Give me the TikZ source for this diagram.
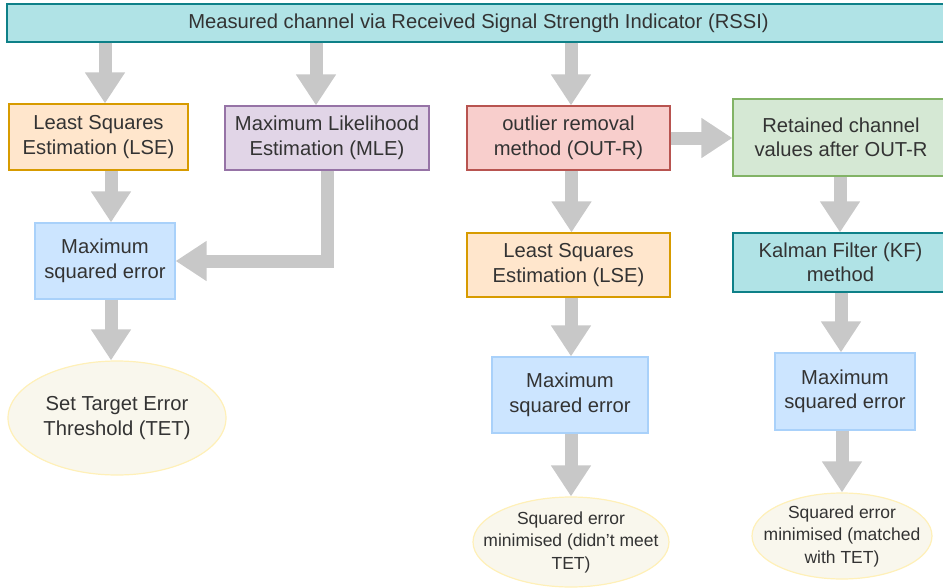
\documentclass[tikz,border=0pt]{standalone}
\usepackage{fontspec}
\setmainfont{Liberation Sans}
\usetikzlibrary{arrows.meta,shapes.geometric}
\definecolor{txt}{HTML}{333333}
\definecolor{arr}{HTML}{C8C8C8}
\definecolor{tealF}{HTML}{B0E3E6}\definecolor{tealD}{HTML}{0E8088}
\definecolor{orF}{HTML}{FFE6CC}\definecolor{orD}{HTML}{D79B00}
\definecolor{puF}{HTML}{E1D5E7}\definecolor{puD}{HTML}{9673A6}
\definecolor{reF}{HTML}{F8CECC}\definecolor{reD}{HTML}{B85450}
\definecolor{grF}{HTML}{D5E8D4}\definecolor{grD}{HTML}{82B366}
\definecolor{blF}{HTML}{CCE5FF}\definecolor{blD}{HTML}{A9D1FA}
\definecolor{elF}{HTML}{F9F7ED}\definecolor{elD}{HTML}{FFF0B8}
\begin{document}
\begin{tikzpicture}[x=1pt, y=-1pt,
  box/.style={draw, line width=1.2pt, inner sep=0pt, align=center, text=txt,
    font=\fontsize{20.2}{24.5}\selectfont},
  oval/.style={box, ellipse, draw=elD, fill=elF},
  small/.style={font=\fontsize{17.5}{22.5}\selectfont, inner xsep=-20pt, inner ysep=-3pt},
  blockarrow/.style={draw=arr, line width=13pt,
    -{Triangle[width=38pt, length=31pt, fill=arr]}}]
  \useasboundingbox (0,0) rectangle (943,587);

  % top bar
  \node[box, draw=tealD, fill=tealF, minimum width=943pt, minimum height=38pt]
    (rssi) at (478.5,23) {Measured channel via Received Signal Strength Indicator (RSSI)};

  % left branch
  \node[box, draw=orD, fill=orF, minimum width=179pt, minimum height=66pt]
    (lseA) at (98.5,137) {Least Squares\\Estimation (LSE)};
  \node[box, draw=puD, fill=puF, minimum width=204pt, minimum height=64pt]
    (mle) at (327,138) {Maximum Likelihood\\Estimation (MLE)};
  \node[box, draw=blD, fill=blF, minimum width=140pt, minimum height=76pt]
    (errA) at (105,261) {Maximum\\squared error};
  \node[oval, inner xsep=0pt, minimum width=218pt, minimum height=114pt]
    (tet) at (117,418) {Set Target Error\\Threshold (TET)};

  % right branch
  \node[box, draw=reD, fill=reF, minimum width=203pt, minimum height=64pt]
    (outr) at (568.5,138) {outlier removal\\method (OUT-R)};
  \node[box, draw=grD, fill=grF, minimum width=216pt, minimum height=77pt]
    (kept) at (841,137.5) {Retained channel\\values after OUT-R};
  \node[box, draw=orD, fill=orF, minimum width=203pt, minimum height=64pt]
    (lseB) at (568.5,265) {Least Squares\\Estimation (LSE)};
  \node[box, draw=tealD, fill=tealF, minimum width=215pt, minimum height=59pt]
    (kf) at (840.5,262.5) {Kalman Filter (KF)\\method};
  \node[box, draw=blD, fill=blF, minimum width=156pt, minimum height=76pt]
    (errB) at (570,395) {Maximum\\squared error};
  \node[box, draw=blD, fill=blF, minimum width=140pt, minimum height=77pt]
    (errC) at (845,391.5) {Maximum\\squared error};
  \node[oval, small, minimum width=196pt, minimum height=90pt]
    (resB) at (571,542) {Squared error\\minimised (didn't meet\\TET)};
  \node[oval, small, minimum width=180pt, minimum height=86pt]
    (resC) at (842,536) {Squared error\\minimised (matched\\with TET)};

  % arrows
  \draw[blockarrow] ([xshift=6.5pt]lseA.north |- rssi.south) -- ([xshift=6.5pt]lseA.north);
  \draw[blockarrow] ([xshift=-11pt]mle.north |- rssi.south) -- ([xshift=-11pt]mle.north);
  \draw[blockarrow] ([xshift=2.5pt]outr.north |- rssi.south) -- ([xshift=2.5pt]outr.north);
  \draw[blockarrow] ([xshift=12.5pt]lseA.south) -- ([xshift=12.5pt]lseA.south |- errA.north);
  \draw[blockarrow] (mle.south) |- (errA.east);
  \draw[blockarrow] ([xshift=6pt]errA.south) -- ([xshift=6pt]errA.south |- tet.north);
  \draw[blockarrow] (outr.east) -- (outr.east -| kept.west);
  \draw[blockarrow] ([xshift=3pt]outr.south) -- ([xshift=3pt]outr.south |- lseB.north);
  \draw[blockarrow] ([xshift=-1pt]kept.south) -- ([xshift=-1pt]kept.south |- kf.north);
  \draw[blockarrow] ([xshift=2.5pt]lseB.south) -- ([xshift=2.5pt]lseB.south |- errB.north);
  \draw[blockarrow] ([xshift=0.5pt]kf.south) -- ([xshift=0.5pt]kf.south |- errC.north);
  \draw[blockarrow] ([xshift=1pt]errB.south) -- ([xshift=1pt]errB.south |- resB.north);
  \draw[blockarrow] ([xshift=-3pt]errC.south) -- ([xshift=-3pt]errC.south |- resC.north);
\end{tikzpicture}
\end{document}
